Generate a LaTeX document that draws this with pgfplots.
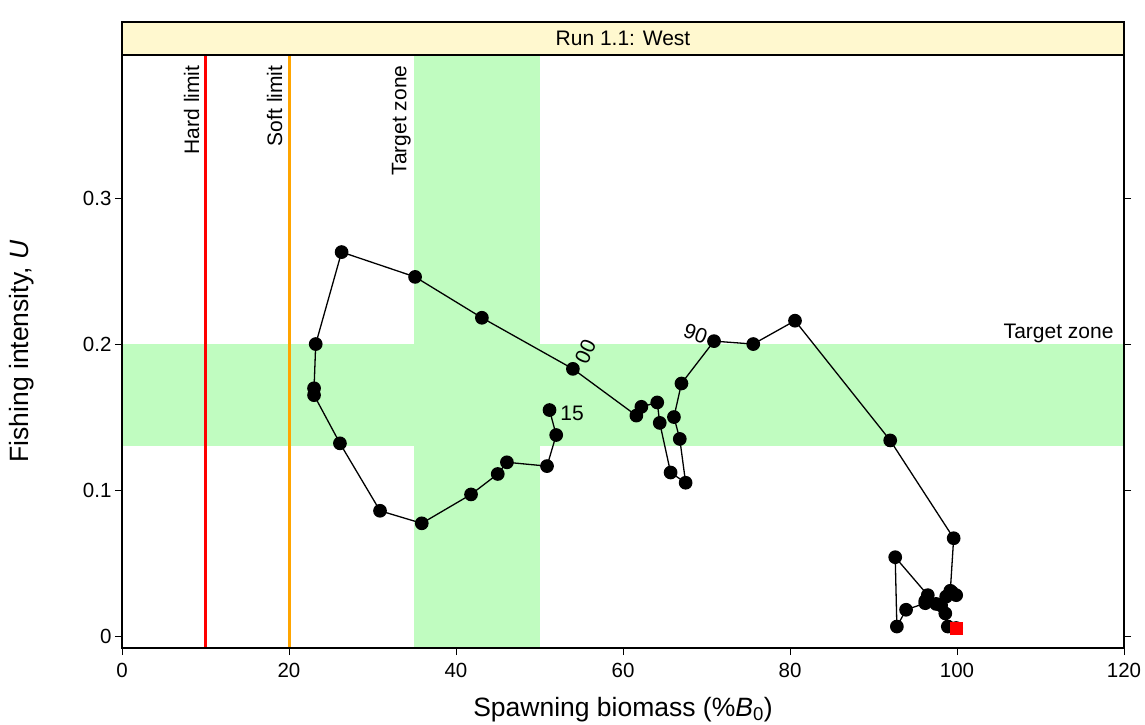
\documentclass[border=0pt]{standalone}
\usepackage{fontspec}
\setmainfont{Liberation Sans}
\usepackage{pgfplots}
\pgfplotsset{compat=1.18}
\definecolor{tzgreen}{RGB}{192,252,192}
\definecolor{stripcol}{RGB}{255,248,207}
\definecolor{softcol}{RGB}{255,165,0}
\begin{document}
\begin{tikzpicture}
\begin{axis}[name=ax, scale only axis, width=1002bp, height=593bp,
  xmin=0, xmax=120, ymin=-0.0082, ymax=0.398,
  xtick={0,20,40,60,80,100,120},
  ytick={0,0.1,0.2,0.3}, yticklabels={0,0.1,0.2,0.3},
  xtick pos=bottom, ytick pos=both,
  tick align=outside, major tick length=7bp,
  tick style={black, line width=1bp},
  axis line style={line width=1.3bp},
  /pgf/number format/assume math mode=true,
  ticklabel style={font=\fontsize{20.5bp}{24bp}\selectfont},
  xticklabel style={yshift=-5bp},
  xlabel={Spawning biomass (\%\textit{B}\textsubscript{0})},
  ylabel={Fishing intensity, \textit{U}},
  label style={font=\fontsize{26.5bp}{31bp}\selectfont},
  xlabel style={at={(axis description cs:0.5,-0.104)}, anchor=center},
  ylabel style={at={(axis description cs:-0.0998,0.5)}, anchor=center},
  axis on top,
]
\fill[tzgreen] (axis cs:35,-0.0082) rectangle (axis cs:50,0.398);
\fill[tzgreen] (axis cs:0,0.13) rectangle (axis cs:120,0.2);
\addplot[red, line width=3bp] coordinates {(10,-0.0082) (10,0.398)};
\addplot[softcol, line width=3bp] coordinates {(20,-0.0082) (20,0.398)};
\addplot[black, line width=1.3bp, mark=*, mark size=6.2bp, mark options={fill=black}] table {
x y
99.9 0.0055
98.9 0.0065
98.6 0.0155
98.1 0.021
96.2 0.0225
93.9 0.018
92.8 0.0065
92.6 0.054
96.5 0.028
96.2 0.024
97.5 0.022
98.7 0.027
99.4 0.030
99.9 0.028
99.2 0.031
99.6 0.067
92.0 0.134
80.6 0.216
75.6 0.200
70.9 0.202
67.0 0.173
66.1 0.150
66.8 0.135
67.5 0.105
65.7 0.112
64.4 0.146
64.1 0.160
62.2 0.157
61.6 0.151
54.0 0.183
43.1 0.218
35.1 0.246
26.3 0.263
23.2 0.200
23.0 0.1697
23.0 0.165
26.1 0.132
30.9 0.0858
35.9 0.0772
41.8 0.097
45.0 0.111
46.1 0.119
50.9 0.1164
52.0 0.1377
51.2 0.1548
};
\addplot[only marks, mark=square*, mark size=6bp, red] coordinates {(99.9,0.0055)};
\node[rotate=90, anchor=base east, font=\fontsize{21bp}{25bp}\selectfont] at ([xshift=-6.5bp,yshift=-7bp]axis cs:10,0.398) {Hard limit};
\node[rotate=90, anchor=base east, font=\fontsize{21bp}{25bp}\selectfont] at ([xshift=-7bp,yshift=-7bp]axis cs:20,0.398) {Soft limit};
\node[rotate=90, anchor=base east, font=\fontsize{21bp}{25bp}\selectfont] at ([xshift=-8bp,yshift=-7bp]axis cs:35,0.398) {Target zone};
\node[anchor=base east, font=\fontsize{21bp}{25bp}\selectfont] at ([xshift=-7bp,yshift=6bp]axis cs:120,0.2) {Target zone};
\node[rotate=65, inner sep=0pt, font=\fontsize{21bp}{25bp}\selectfont] at (axis cs:55.5,0.1947) {00};
\node[rotate=-20, inner sep=0pt, font=\fontsize{21bp}{25bp}\selectfont] at (axis cs:68.7,0.2068) {90};
\node[font=\fontsize{21bp}{25bp}\selectfont] at (axis cs:53.9,0.1525) {15};
\end{axis}
\draw[fill=stripcol, line width=1.3bp] (ax.north west) rectangle ([yshift=33bp]ax.north east);
\node[font=\fontsize{21bp}{25bp}\selectfont] at ([yshift=16.5bp]ax.north) {Run 1.1: West};
\pgfresetboundingbox
\path ([xshift=-122bp,yshift=-76bp]ax.south west) rectangle ([xshift=21bp,yshift=55bp]ax.north east);
\end{tikzpicture}
\end{document}
